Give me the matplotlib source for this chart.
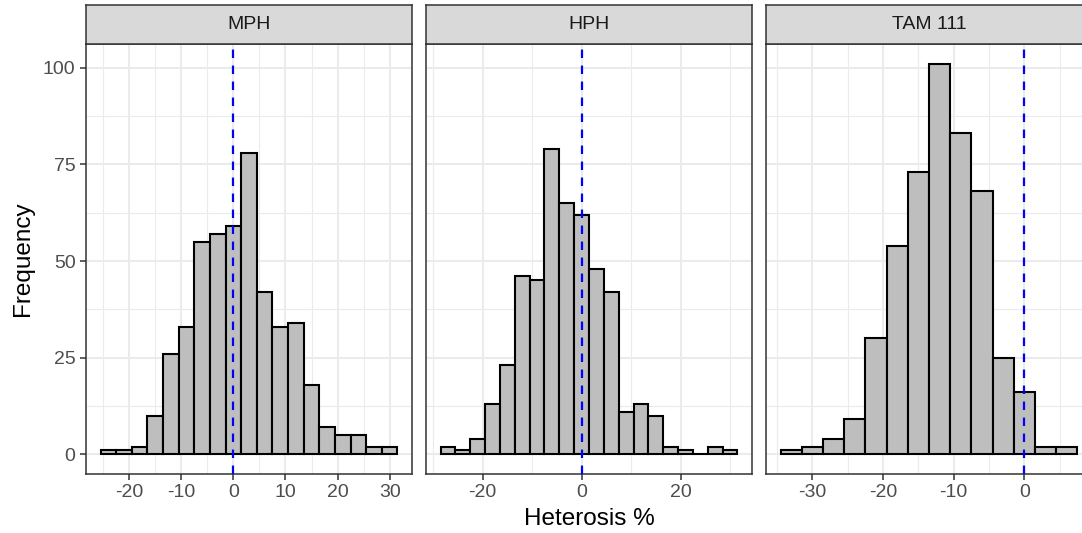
import numpy as np
import matplotlib
matplotlib.use("Agg")
import matplotlib.pyplot as plt

plt.rcParams["font.family"] = ["Liberation Sans", "DejaVu Sans"]
plt.rcParams["axes.unicode_minus"] = False

# Dados (contagens por classe, largura de classe = 3)
painel_nomes = ["MPH", "HPH", "TAM 111"]
binwidth = 3.0

mph_inicio = -25.5
mph_contagens = [1, 1, 2, 10, 26, 33, 55, 57, 59, 78, 42, 33, 34, 18, 7, 5, 5, 2, 2]

hph_inicio = -28.5
hph_contagens = [2, 1, 4, 13, 23, 46, 45, 79, 65, 62, 48, 42, 11, 13, 10, 2, 1, 0, 2, 1]

tam_inicio = -34.5
tam_contagens = [1, 2, 4, 9, 30, 54, 73, 101, 83, 68, 25, 16, 2, 2]

mph_xticks = [-20, -10, 0, 10, 20, 30]
hph_xticks = [-20, 0, 20]
tam_xticks = [-30, -20, -10, 0]
y_ticks = [0, 25, 50, 75, 100]

inicios = [mph_inicio, hph_inicio, tam_inicio]
contagens = [mph_contagens, hph_contagens, tam_contagens]
xticks = [mph_xticks, hph_xticks, tam_xticks]

W, H = 1082, 533
fig = plt.figure(figsize=(W / 100, H / 100), dpi=100)
fig.patch.set_facecolor("white")

# geometria dos painéis em pixels
lefts = [85.7, 425.7, 765.7]
pw = 326.6
p_top, p_bot = 44.4, 473.8
s_top = 5.0

ymax = max(max(c) for c in contagens)
ylim = (-0.05 * ymax, ymax * 1.05)

for i in range(3):
    ax = fig.add_axes([lefts[i] / W, (H - p_bot) / H, pw / W, (p_bot - p_top) / H])
    counts = np.array(contagens[i])
    edges = inicios[i] + binwidth * np.arange(len(counts) + 1)

    ax.bar(edges[:-1], counts, width=binwidth, align="edge",
           color="#BEBEBE", edgecolor="black", linewidth=1.5, zorder=2)
    ax.axvline(0, color="#0000FF", linewidth=1.6, linestyle=(0, (3.8, 3.4)), zorder=3)

    span = edges[-1] - edges[0]
    maj = xticks[i]
    step = maj[1] - maj[0]
    minors = np.arange(maj[0] - step * 2.5, maj[-1] + step * 3, step)
    ax.set_xticks(maj)
    ax.set_xticks(minors, minor=True)
    ax.set_yticks(y_ticks)
    ax.set_yticks(np.array(y_ticks[:-1]) + 12.5, minor=True)
    ax.set_xlim(edges[0] - 0.05 * span, edges[-1] + 0.05 * span)
    ax.set_ylim(*ylim)

    ax.grid(True, which="major", color="#EBEBEB", linewidth=1.5, zorder=0)
    ax.grid(True, which="minor", color="#EBEBEB", linewidth=0.8, zorder=0)
    ax.set_axisbelow(True)

    ax.tick_params(which="minor", length=0)
    ax.tick_params(which="major", length=4.3, width=1.1, color="#333333",
                   labelsize=14, labelcolor="#4D4D4D", pad=3)
    if i > 0:
        ax.tick_params(axis="y", left=False, labelleft=False)

    for sp in ax.spines.values():
        sp.set_color("#333333")
        sp.set_linewidth(1.1)

    # faixa do título do painel
    sax = fig.add_axes([lefts[i] / W, (H - p_top) / H, pw / W, (p_top - s_top) / H])
    sax.set_facecolor("#D9D9D9")
    sax.set_xticks([])
    sax.set_yticks([])
    for sp in sax.spines.values():
        sp.set_color("#333333")
        sp.set_linewidth(1.1)
    sax.text(0.5, 0.5, painel_nomes[i], ha="center", va="center",
             fontsize=14, color="#1A1A1A", transform=sax.transAxes)

fig.text(23 / W, 1 - (p_top + p_bot) / 2 / H, "Frequency", rotation=90,
         ha="center", va="center", fontsize=17.5, color="black")
fig.text(589.5 / W, 1 - 519 / H, "Heterosis %", ha="center", va="center",
         fontsize=17.5, color="black")

fig.savefig("out.png", dpi=100, facecolor="white")
